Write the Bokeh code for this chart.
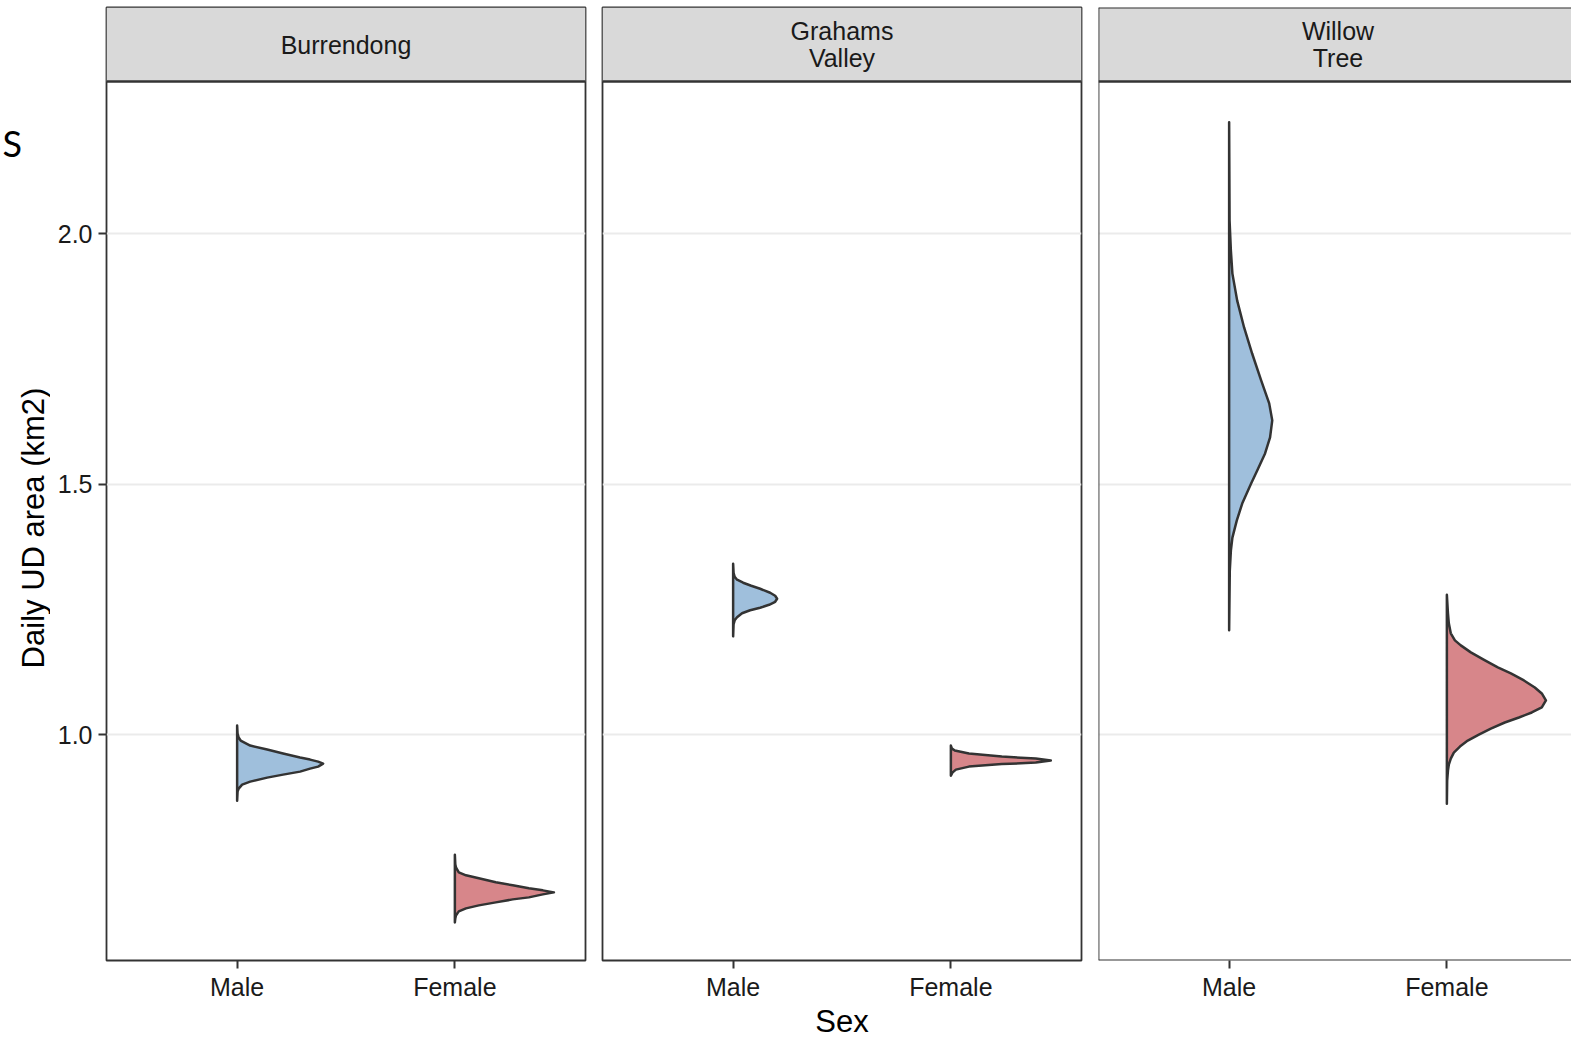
import math
from bokeh.plotting import figure
from bokeh.models import Range1d, FixedTicker, Span
from bokeh.layouts import row
from bokeh.embed import file_html
from bokeh.resources import INLINE
from bokeh.core.properties import value

# ---------------- data ----------------
sites = ["Burrendong", "Grahams Valley", "Willow Tree"]
sexes = ["Male", "Female"]
y_ticks = [1.0, 1.5, 2.0]
y_tick_labels = ["1.0", "1.5", "2.0"]
x_title = "Sex"
y_title = "Daily UD area (km2)"
corner_text = "S"

# half-violin profiles: UD area values (km2) and half-widths (density, in x units)
burrendong_male_y = [1.018, 1.002, 0.994, 0.988, 0.978, 0.970, 0.962, 0.954, 0.950, 0.946, 0.942,
                     0.936, 0.932, 0.926, 0.920, 0.914, 0.906, 0.900, 0.892, 0.886, 0.868]
burrendong_male_w = [0, .002, .007, .016, .060, .138, .211, .289, .335, .372, .395,
                     .372, .335, .289, .211, .138, .060, .023, .007, .002, 0]

burrendong_female_y = [0.760, 0.741, 0.735, 0.725, 0.719, 0.713, 0.705, 0.699, 0.693, 0.689, 0.685,
                       0.681, 0.675, 0.671, 0.665, 0.659, 0.653, 0.647, 0.639, 0.633, 0.625]
burrendong_female_w = [0, .002, .005, .018, .051, .110, .188, .266, .340, .404, .455,
                       .404, .340, .266, .188, .110, .051, .018, .005, .002, 0]

grahams_male_y = [1.341, 1.323, 1.315, 1.309, 1.303, 1.297, 1.291, 1.283, 1.277, 1.271,
                  1.265, 1.259, 1.253, 1.248, 1.242, 1.234, 1.228, 1.220, 1.196]
grahams_male_w = [0, .002, .007, .018, .046, .083, .124, .170, .193, .202,
                  .193, .165, .124, .078, .041, .018, .007, .002, 0]

grahams_female_y = [0.978, 0.972, 0.968, 0.962, 0.956, 0.952, 0.948, 0.944, 0.941, 0.936, 0.930, 0.924, 0.918]
grahams_female_w = [0, .005, .018, .083, .234, .390, .459, .390, .234, .083, .023, .007, 0]

willow_male_y = [2.222, 2.026, 1.966, 1.920, 1.866, 1.812, 1.760, 1.707, 1.661, 1.627,
                 1.593, 1.561, 1.527, 1.501, 1.461, 1.427, 1.393, 1.367, 1.327, 1.208]
willow_male_w = [0, .002, .008, .015, .037, .069, .106, .147, .184, .198,
                 .188, .165, .129, .101, .060, .035, .015, .008, .003, 0]

willow_female_y = [1.279, 1.242, 1.222, 1.202, 1.188, 1.178, 1.164, 1.148, 1.134, 1.122, 1.108,
                   1.094, 1.082, 1.068, 1.054, 1.044, 1.034, 1.024, 1.012, 1.000, 0.988,
                   0.976, 0.964, 0.952, 0.940, 0.928, 0.908, 0.862]
willow_female_w = [0, .005, .009, .018, .037, .064, .110, .175, .234, .294, .354,
                   .404, .436, .455, .436, .390, .331, .266, .202, .147, .096,
                   .060, .032, .018, .009, .005, .0014, 0]

profiles = {
    ("Burrendong", "Male"): (burrendong_male_y, burrendong_male_w),
    ("Burrendong", "Female"): (burrendong_female_y, burrendong_female_w),
    ("Grahams Valley", "Male"): (grahams_male_y, grahams_male_w),
    ("Grahams Valley", "Female"): (grahams_female_y, grahams_female_w),
    ("Willow Tree", "Male"): (willow_male_y, willow_male_w),
    ("Willow Tree", "Female"): (willow_female_y, willow_female_w),
}

# ---------------- styling / layout ----------------
FONT = "Liberation Sans"
fills = {"Male": "#9fbfdc", "Female": "#d7868a"}
OUT = "#333333"
Y_MIN, Y_PANEL_TOP, Y_MAX = 0.549, 2.3034, 2.4511
FRAME_H = 953
STRIP_H = 74
TOP, BOTTOM = 7, 76
TOTAL_H = TOP + FRAME_H + BOTTOM
SIDE_W = 50
frame_widths = [479, 479, 473]
x_right = [2.6, 2.6, 0.4 + 2.2 * 473 / 479]
borders_left = [106 - SIDE_W, 9, 9]
borders_right = [8, 8, 0]

# left strip holding the stray "S" and the rotated y-axis title (pixel-like coordinates)
side = figure(frame_width=SIDE_W, frame_height=TOTAL_H, x_range=Range1d(0, SIDE_W),
              y_range=Range1d(0, TOTAL_H), min_border=0, x_axis_location=None,
              y_axis_location=None, output_backend="svg", toolbar_location=None, title=None)
side.grid.visible = False
side.outline_line_color = None
side.background_fill_color = "white"
side.border_fill_color = "white"
side.text(x=[2], y=[TOTAL_H - 135], text=[corner_text], text_align="left",
          text_baseline="alphabetic", text_font=value("Lato"), text_font_size="36px",
          text_color="#000000")
panel_mid = TOP + STRIP_H + (FRAME_H - STRIP_H) / 2
side.text(x=[32.5], y=[TOTAL_H - panel_mid], text=[y_title], angle=math.pi / 2,
          text_align="center", text_baseline="alphabetic", text_font=value(FONT),
          text_font_size="31px", text_color="#000000")

figs = [side]
for i, site in enumerate(sites):
    p = figure(frame_width=frame_widths[i], frame_height=FRAME_H,
               x_range=Range1d(0.4, x_right[i]), y_range=Range1d(Y_MIN, Y_MAX),
               min_border_left=borders_left[i], min_border_right=borders_right[i],
               min_border_top=TOP, min_border_bottom=BOTTOM,
               output_backend="svg", toolbar_location=None, title=None)
    p.background_fill_color = "white"
    p.border_fill_color = "white"
    if i < 2:
        p.outline_line_color = OUT
        p.outline_line_width = 1.8
    else:
        p.outline_line_color = None
        for loc, dim in [(0.4, "height"), (Y_MIN, "width"), (Y_MAX, "width")]:
            p.add_layout(Span(location=loc, dimension=dim, line_color=OUT, line_width=1.8))

    p.xgrid.visible = False
    p.ygrid.ticker = FixedTicker(ticks=y_ticks)
    p.ygrid.grid_line_color = "#ebebeb"
    p.ygrid.grid_line_width = 2

    # x axis
    ax = p.xaxis[0]
    ax.ticker = FixedTicker(ticks=[k + 1 for k in range(len(sexes))])
    ax.major_label_overrides = {k + 1: s for k, s in enumerate(sexes)}
    ax.axis_line_color = None
    ax.major_tick_out = 8
    ax.major_tick_in = 0
    ax.minor_tick_out = 0
    ax.minor_tick_in = 0
    ax.major_tick_line_color = OUT
    ax.major_tick_line_width = 2
    ax.major_label_standoff = 4
    ax.major_label_text_font = FONT
    ax.major_label_text_font_size = "25px"
    ax.major_label_text_color = "#1a1a1a"
    ax.axis_label = x_title
    ax.axis_label_text_font = FONT
    ax.axis_label_text_font_size = "31px"
    ax.axis_label_text_font_style = "normal"
    ax.axis_label_text_color = "#000000"
    ax.axis_label_standoff = 0
    if i != 1:
        ax.axis_label_text_alpha = 0.0

    # y axis
    ay = p.yaxis[0]
    if i == 0:
        ay.ticker = FixedTicker(ticks=y_ticks)
        ay.major_label_overrides = {t: l for t, l in zip(y_ticks, y_tick_labels)}
        ay.axis_line_color = None
        ay.major_tick_out = 8
        ay.major_tick_in = 0
        ay.minor_tick_out = 0
        ay.minor_tick_in = 0
        ay.major_tick_line_color = OUT
        ay.major_tick_line_width = 2
        ay.major_label_standoff = 6
        ay.major_label_text_font = FONT
        ay.major_label_text_font_size = "25px"
        ay.major_label_text_color = "#1a1a1a"
    else:
        ay.visible = False

    # strip
    p.quad(left=0.4, right=x_right[i], bottom=Y_PANEL_TOP, top=Y_MAX,
           fill_color="#d9d9d9", line_color=None)
    p.segment(x0=0.4, x1=x_right[i], y0=Y_PANEL_TOP, y1=Y_PANEL_TOP,
              line_color=OUT, line_width=2.6)
    words = site.split(" ")
    mid = (Y_PANEL_TOP + Y_MAX) / 2
    for j, wtxt in enumerate(words):
        p.text(x=[1.5], y=[mid], text=[wtxt], y_offset=(j - (len(words) - 1) / 2) * 27,
               text_align="center", text_baseline="middle",
               text_font=value(FONT), text_font_size="25px", text_color="#1a1a1a")

    # half violins
    for k, sex in enumerate(sexes):
        ys, ws = profiles[(site, sex)]
        c = k + 1
        xs = [c + w for w in ws] + [c, c]
        yy = list(ys) + [ys[-1], ys[0]]
        p.patch(xs, yy, fill_color=fills[sex], line_color=OUT, line_width=2.5,
                line_join="round")
    figs.append(p)

layout = row(*figs)
open("out.html", "w").write(file_html(layout, INLINE))
